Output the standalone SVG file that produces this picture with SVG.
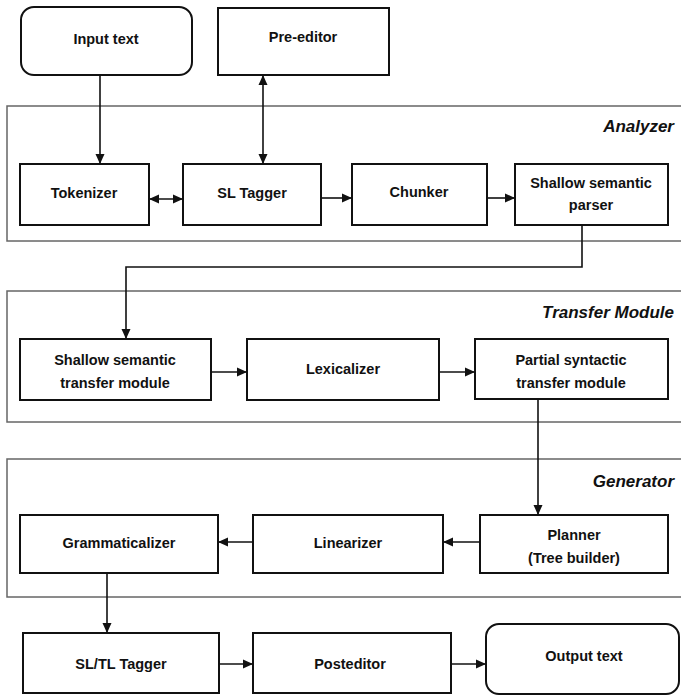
<svg xmlns="http://www.w3.org/2000/svg" width="681" height="696" viewBox="0 0 681 696">
<style>
.box{fill:#fff;stroke:#111;stroke-width:2}
.grp{fill:none;stroke:#666;stroke-width:1.5}
.t{font-family:"Liberation Sans",Arial,sans-serif;font-weight:bold;font-size:14.5px;fill:#111;text-anchor:middle;dominant-baseline:central}
.lbl{font-family:"Liberation Sans",Arial,sans-serif;font-weight:bold;font-style:italic;font-size:17px;fill:#111;text-anchor:end}
.c{fill:none;stroke:#111;stroke-width:1.6}
</style>
<defs>
<marker id="ah" viewBox="0 0 10 10" refX="10" refY="5" markerWidth="10" markerHeight="10" markerUnits="userSpaceOnUse" orient="auto-start-reverse">
<path d="M0,0.5 L10,5 L0,9.5 Z" fill="#111"/>
</marker>
</defs>
<rect width="681" height="696" fill="#fff"/>
<g id="analyzer-group">
<rect class="grp" x="7" y="106" width="680" height="135"/>
<text class="lbl" x="674" y="132">Analyzer</text>
</g>
<g id="transfer-group">
<rect class="grp" x="7" y="291" width="680" height="131"/>
<text class="lbl" x="674" y="318">Transfer Module</text>
</g>
<g id="generator-group">
<rect class="grp" x="7" y="459" width="680" height="138"/>
<text class="lbl" x="674" y="487">Generator</text>
</g>
<g id="input-text"><rect class="box" x="21" y="7" width="171" height="68" rx="13"/><text class="t" x="106" y="39">Input text</text></g>
<g id="pre-editor"><rect class="box" x="218" y="8" width="171" height="67"/><text class="t" x="303" y="37">Pre-editor</text></g>
<g id="tokenizer"><rect class="box" x="20" y="164" width="129" height="61"/><text class="t" x="84" y="193">Tokenizer</text></g>
<g id="sl-tagger"><rect class="box" x="183" y="164" width="138" height="61"/><text class="t" x="252" y="193">SL Tagger</text></g>
<g id="chunker"><rect class="box" x="352" y="164" width="135" height="61"/><text class="t" x="419" y="192">Chunker</text></g>
<g id="shallow-parser"><rect class="box" x="515" y="164" width="153" height="61"/><text class="t" x="591" y="183">Shallow semantic</text><text class="t" x="591" y="205">parser</text></g>
<g id="shallow-transfer"><rect class="box" x="20" y="339" width="191" height="61"/><text class="t" x="115" y="360">Shallow semantic</text><text class="t" x="115" y="383">transfer module</text></g>
<g id="lexicalizer"><rect class="box" x="247" y="339" width="192" height="61"/><text class="t" x="343" y="369">Lexicalizer</text></g>
<g id="partial-transfer"><rect class="box" x="475" y="339" width="193" height="60"/><text class="t" x="571" y="360">Partial syntactic</text><text class="t" x="571" y="383">transfer module</text></g>
<g id="grammaticalizer"><rect class="box" x="20" y="515" width="198" height="58"/><text class="t" x="119" y="543">Grammaticalizer</text></g>
<g id="linearizer"><rect class="box" x="253" y="515" width="190" height="58"/><text class="t" x="348" y="543">Linearizer</text></g>
<g id="planner"><rect class="box" x="480" y="515" width="188" height="58"/><text class="t" x="574" y="535">Planner</text><text class="t" x="574" y="558">(Tree builder)</text></g>
<g id="sltl-tagger"><rect class="box" x="23" y="633" width="196" height="60"/><text class="t" x="121" y="664">SL/TL Tagger</text></g>
<g id="posteditor"><rect class="box" x="253" y="633" width="198" height="60"/><text class="t" x="350" y="664">Posteditor</text></g>
<g id="output-text"><rect class="box" x="486" y="624" width="193" height="70" rx="13"/><text class="t" x="584" y="656">Output text</text></g>
<g id="connectors">
<path class="c" d="M100,75 V164" marker-end="url(#ah)"/>
<path class="c" d="M263,75 V164" marker-start="url(#ah)" marker-end="url(#ah)"/>
<path class="c" d="M149,199 H183" marker-start="url(#ah)" marker-end="url(#ah)"/>
<path class="c" d="M321,198 H352" marker-end="url(#ah)"/>
<path class="c" d="M487,198 H515" marker-end="url(#ah)"/>
<path class="c" d="M582,225 V267 H126 V339" marker-end="url(#ah)"/>
<path class="c" d="M211,372 H247" marker-end="url(#ah)"/>
<path class="c" d="M439,372 H475" marker-end="url(#ah)"/>
<path class="c" d="M538,399 V515" marker-end="url(#ah)"/>
<path class="c" d="M480,542 H443" marker-end="url(#ah)"/>
<path class="c" d="M253,542 H218" marker-end="url(#ah)"/>
<path class="c" d="M107,573 V633" marker-end="url(#ah)"/>
<path class="c" d="M219,664 H253" marker-end="url(#ah)"/>
<path class="c" d="M451,664 H486" marker-end="url(#ah)"/>
</g>
</svg>
